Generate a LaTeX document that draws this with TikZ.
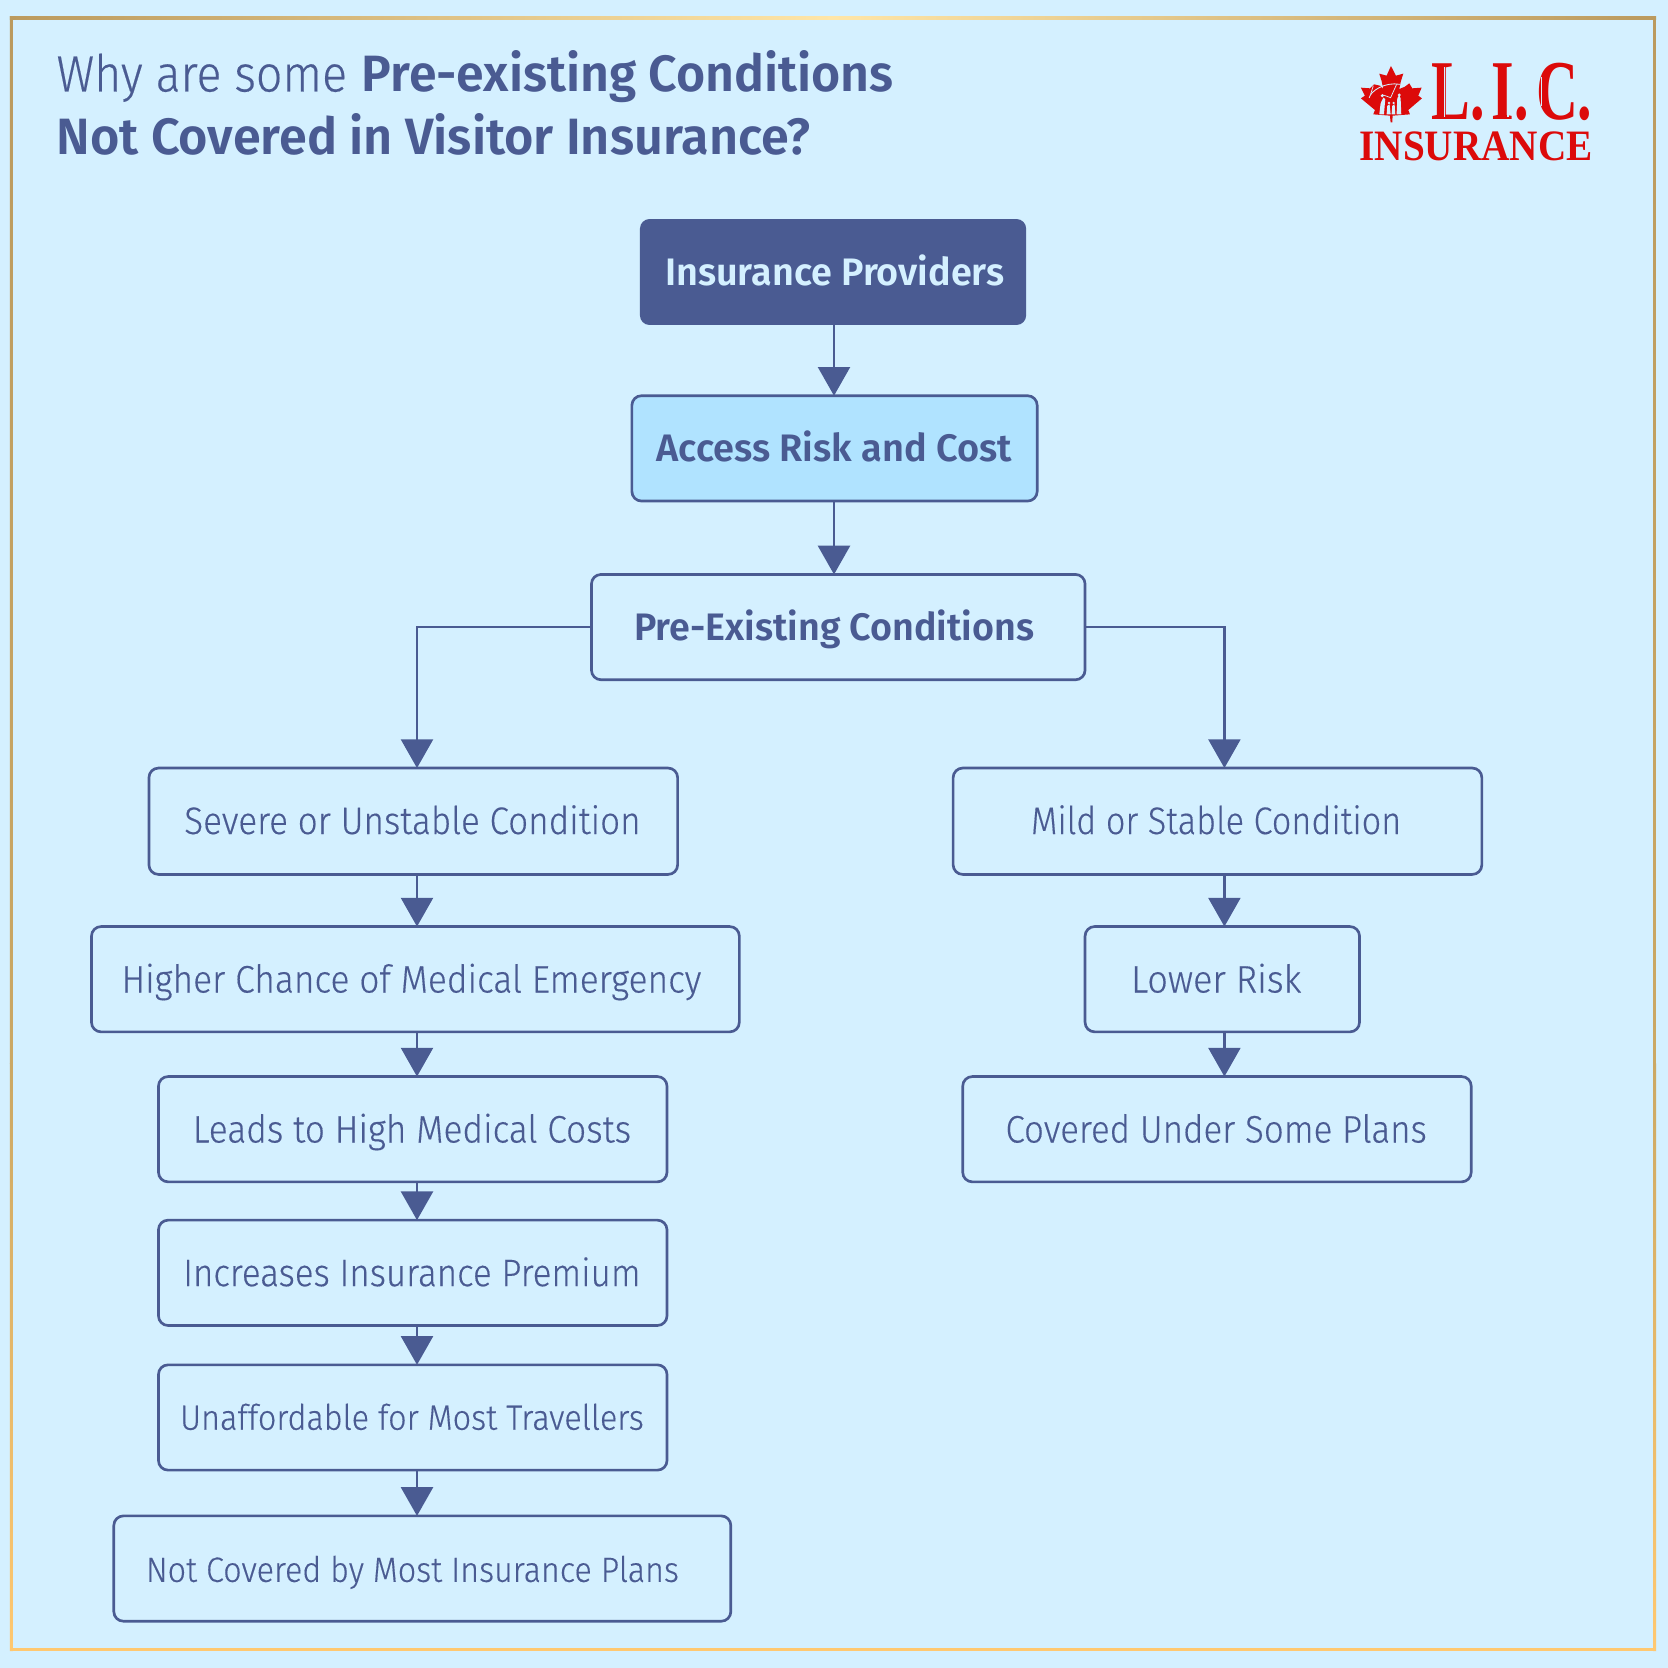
\documentclass[tikz,border=0pt]{standalone}
\usepackage{fontspec}
\usepackage{graphicx}
\setmainfont{Fira Sans}
\newfontfamily\lightf{Fira Sans Light}[FakeBold=0.35]
\newfontfamily\boldf{Fira Sans SemiBold}
\newfontfamily\logof{Liberation Serif}
\usetikzlibrary{arrows.meta,calc}
\definecolor{navy}{HTML}{4A5B92}
\definecolor{bgc}{HTML}{D4F0FF}
\definecolor{hl}{HTML}{B0E3FF}
\definecolor{lic}{HTML}{DC0A0A}
\definecolor{edgetop}{HTML}{BB9A5E}
\definecolor{edgemid}{HTML}{CBA864}
\definecolor{edgebot}{HTML}{FFC870}
\definecolor{edgelight}{HTML}{FFE6A8}
\newcommand{\fit}[2]{\resizebox{\dimexpr#1pt/2\relax}{\height}{#2}}
\tikzset{
 x=0.5pt,y=-0.5pt,
 box/.style={draw=navy,line width=1.25pt,rounded corners=4.5pt,fill=bgc,inner sep=0pt,outer sep=0pt},
 lab/.style={text=navy,inner sep=0pt,outer sep=0pt,anchor=base west,xshift=-0.4pt},
 plain/.style={lab,font=\lightf\fontsize{18}{20}\selectfont},
 small/.style={lab,font=\lightf\fontsize{16.5}{20}\selectfont},
 strong/.style={lab,font=\boldf\fontsize{18}{20}\selectfont},
 lnk/.style={draw=navy,line width=1.25pt,-{Triangle[width=15pt,length=13.5pt]}},
 titletext/.style={lab,font=\fontsize{24}{28}\selectfont},
 logotext/.style={inner sep=0pt,outer sep=0pt,anchor=base west,text=lic},
}
% name x1 y1 x2 y2 style
\newcommand{\bx}[6]{\node[box,#6,minimum width=#4*0.5pt-#2*0.5pt,minimum height=#5*0.5pt-#3*0.5pt,anchor=north west] (#1) at (#2,#3) {};}
% name style xleft xright baseline text
\newcommand{\tx}[6]{\node[#2] (#1) at (#3,#5) {\fit{\numexpr#4-#3\relax}{#6}};}
\newcommand{\nodepth}[1]{\raisebox{0pt}[\height][0pt]{#1}}
\begin{document}
\begin{tikzpicture}
\useasboundingbox (0,0) rectangle (1568,1568);
\fill[bgc] (0,0) rectangle (1568,1568);
% frame
\shade[top color=edgetop,bottom color=edgemid] (9.4,15.1) rectangle (12.2,1000) (1553.9,15.1) rectangle (1556.7,1000);
\shade[top color=edgemid,bottom color=edgebot] (9.4,999.5) rectangle (12.2,1552) (1553.9,999.5) rectangle (1556.7,1552);
\fill[edgebot] (9.4,1549.2) rectangle (1556.7,1552);
\shade[left color=edgetop,right color=edgetop,middle color=edgelight] (9.4,15.1) rectangle (1556.7,17.9);
% title
\node[titletext] (t1) at (54,86) {\fit{273}{\lightf Why are some}};
\node[titletext] (t2) at (341,86) {\fit{500}{\boldf Pre-existing Conditions}};
\node[titletext] (t3) at (54,145) {\fit{709}{\boldf Not Covered in Visitor Insurance?}};
% logo
\node[logotext] (logo1) at (1346,112)
  {\nodepth{\resizebox{75.5pt}{26.5pt}{\logof\bfseries L.\kern0.12em I.\kern0.12em C.}}};
\node[logotext] (logo2) at (1278,150.5)
  {\nodepth{\resizebox{109.5pt}{13.5pt}{\logof\bfseries INSURANCE}}};
\draw[bgc,line width=0.5pt] (1357.5,63) -- (1357.5,110) (1417.6,63) -- (1417.6,110) (1449,72) -- (1449,100);
\begin{scope}[shift={(1269,51.7)},x=0.1567pt,y=-0.1567pt]
 \fill[lic] (123,33) -- (138,62) -- (160,56) -- (153,78) -- (148,102) -- (165,95) -- (178,85) -- (187,100) -- (215,98)
  -- (205,122) -- (216,130) -- (175,165) -- (180,178) -- (128,182) -- (127,202) -- (122,202) -- (120,182) -- (70,178)
  -- (75,165) -- (33,130) -- (45,122) -- (33,98) -- (60,100) -- (72,88) -- (90,92) -- (100,102) -- (95,78) -- (88,56) -- (110,62) -- cycle;
 \draw[bgc,line width=0.4pt,line cap=round] (58,128) .. controls (62,108) and (105,80) .. (150,88);
 \draw[bgc,line width=0.35pt] (100,120) -- (122,128) -- (140,88) (70,92) -- (62,118);
 \fill[bgc] (88,178) -- (92,145) -- (100,128) -- (106,132) -- (102,178) -- cycle
   (140,178) -- (142,130) -- (148,120) -- (152,130) -- (154,178) -- cycle
   (110,178) -- (112,152) -- (119,148) -- (122,178) -- cycle
   (125,178) -- (127,152) -- (134,148) -- (136,178) -- cycle;
 \fill[bgc] (97,122) circle (5) (148,120) circle (5) (117,144) circle (4) (131,144) circle (4);
\end{scope}
% boxes
\bx{prov}{601.6}{205.9}{964.6}{305.5}{fill=navy,draw=none}
\bx{acc}{594}{372}{975}{471}{fill=hl}
\bx{pre}{556}{540}{1020}{639}{}
\bx{sev}{140}{722}{637}{822}{}
\bx{mild}{896}{722}{1393}{822}{}
\bx{high}{86}{871}{695}{970}{}
\bx{low}{1020}{871}{1278}{970}{}
\bx{cost}{149}{1012}{627}{1111}{}
\bx{cov}{905}{1012}{1383}{1111}{}
\bx{prem}{149}{1147}{627}{1246}{}
\bx{unaf}{149}{1283}{627}{1382}{}
\bx{notc}{107}{1425}{687}{1524}{}
% texts
\tx{provt}{strong,text=bgc}{626}{945}{268}{Insurance Providers}
\tx{acct}{strong}{618}{952}{434}{Access Risk and Cost}
\tx{pret}{strong}{597}{973}{602}{Pre-Existing Conditions}
\tx{sevt}{plain}{174}{603}{784}{Severe or Unstable Condition}
\tx{mildt}{plain}{970}{1318}{784}{Mild or Stable Condition}
\tx{hight}{plain}{115}{660}{933}{Higher Chance of Medical Emergency}
\tx{lowt}{plain}{1064}{1224}{933}{Lower Risk}
\tx{costt}{plain}{182}{594}{1074}{Leads to High Medical Costs}
\tx{covt}{plain}{946}{1342}{1074}{Covered Under Some Plans}
\tx{premt}{plain}{173}{603}{1209}{Increases Insurance Premium}
\tx{unaft}{small}{170}{606}{1344}{Unaffordable for Most Travellers}
\tx{notct}{small}{138}{639}{1487}{Not Covered by Most Insurance Plans}
% connectors
\coordinate (cx) at (784,0);
\coordinate (lx) at (392,0);
\coordinate (rx) at (1151,0);
\draw[lnk] (prov.south -| cx) -- (acc.north -| cx);
\draw[lnk] (acc.south -| cx) -- (pre.north -| cx);
\draw[lnk] (pre.west) -| (sev.north -| lx);
\draw[lnk] (pre.east) -| (mild.north -| rx);
\draw[lnk] (sev.south -| lx) -- (high.north -| lx);
\draw[lnk] (high.south -| lx) -- (cost.north -| lx);
\draw[lnk] (cost.south -| lx) -- (prem.north -| lx);
\draw[lnk] (prem.south -| lx) -- (unaf.north -| lx);
\draw[lnk] (unaf.south -| lx) -- (notc.north -| lx);
\draw[lnk] (mild.south -| rx) -- (low.north -| rx);
\draw[lnk] (low.south -| rx) -- (cov.north -| rx);
\end{tikzpicture}
\end{document}
